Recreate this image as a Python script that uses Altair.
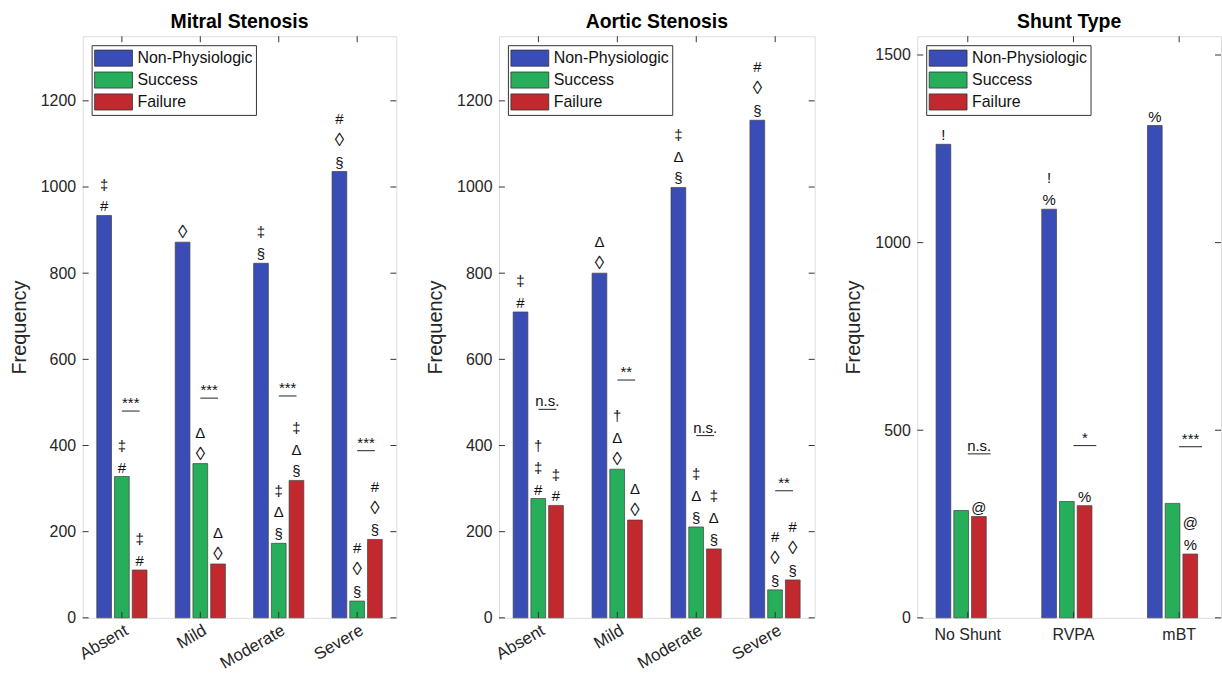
import altair as alt
import pandas as pd

SERIES = ["Non-Physiologic", "Success", "Failure"]
COLORS = ["#3A4DB7", "#27AE5B", "#C1292E"]

# ---- Mitral Stenosis ----
ms_categories = ["Absent", "Mild", "Moderate", "Severe"]
ms_nonphys = [934, 872, 823, 1036]
ms_success = [328, 358, 173, 39]
ms_failure = [111, 125, 319, 182]
ms_marks_nonphys = [["#", "‡"], ["◊"], ["§", "‡"], ["§", "◊", "#"]]
ms_marks_success = [["#", "‡"], ["◊", "Δ"], ["§", "Δ", "‡"], ["§", "◊", "#"]]
ms_marks_failure = [["#", "‡"], ["◊", "Δ"], ["§", "Δ", "‡"], ["§", "◊", "#"]]
ms_sig_text = ["***", "***", "***", "***"]
ms_sig_level = [480, 510, 515, 388]

# ---- Aortic Stenosis ----
as_categories = ["Absent", "Mild", "Moderate", "Severe"]
as_nonphys = [710, 800, 999, 1155]
as_success = [277, 345, 211, 65]
as_failure = [261, 227, 160, 88]
as_marks_nonphys = [["#", "‡"], ["◊", "Δ"], ["§", "Δ", "‡"], ["§", "◊", "#"]]
as_marks_success = [["#", "‡", "†"], ["◊", "Δ", "†"], ["§", "Δ", "‡"], ["§", "◊", "#"]]
as_marks_failure = [["#", "‡"], ["◊", "Δ"], ["§", "Δ", "‡"], ["§", "◊", "#"]]
as_sig_text = ["n.s.", "**", "n.s.", "**"]
as_sig_level = [484, 552, 423, 295]

# ---- Shunt Type ----
st_categories = ["No Shunt", "RVPA", "mBT"]
st_nonphys = [1262, 1089, 1312]
st_success = [286, 310, 305]
st_failure = [270, 299, 170]
st_marks_nonphys = [["!"], ["%", "!"], ["%"]]
st_marks_success = [[], [], []]
st_marks_failure = [["@"], ["%"], ["%", "@"]]
st_sig_text = ["n.s.", "*", "***"]
st_sig_level = [437, 459, 456]

ticks_1200 = [0, 200, 400, 600, 800, 1000, 1200]
ticks_1500 = [0, 500, 1000, 1500]

FONT = "Liberation Sans"
TXT = "#262626"
H = 584


def panel(title, cats, nonphys, success, failure, m_np, m_s, m_f,
          sig_text, sig_level, y_max, y_ticks, width, angle,
          pad_in, pad_out, align, off_pi):
    vals_by_series = [nonphys, success, failure]
    marks_by_series = [m_np, m_s, m_f]
    rows, mrows = [], []
    for i, c in enumerate(cats):
        for s, vals, mk in zip(SERIES, vals_by_series, marks_by_series):
            rows.append({"cat": c, "series": s, "value": vals[i]})
            for k, sym in enumerate(mk[i]):
                mrows.append({"cat": c, "series": s, "value": vals[i], "sym": sym, "k": k})
    bars_df = pd.DataFrame(rows)
    marks_df = pd.DataFrame(mrows, columns=["cat", "series", "value", "sym", "k"])
    sig_df = pd.DataFrame({"cat": cats, "value": sig_level, "txt": sig_text})
    yt_df = pd.DataFrame({"value": y_ticks})
    xt_df = pd.DataFrame({"cat": cats})

    xscale = alt.Scale(domain=cats, paddingInner=pad_in, paddingOuter=pad_out, align=align)
    yscale = alt.Scale(domain=[0, y_max], nice=False, zero=True)
    off_scale = alt.Scale(domain=SERIES, paddingInner=off_pi, paddingOuter=0)
    red_pos = 0.5 + 1.0 / (3 - off_pi)
    mid_pos = (0.5 + red_pos) / 2

    if angle == 0:
        xaxis = alt.Axis(title=None, labelAngle=0, labelAlign="center", labelBaseline="top",
                         labelPadding=9, tickSize=0, domain=False, labelFontSize=16,
                         labelFont=FONT, labelColor=TXT)
    else:
        xaxis = alt.Axis(title=None, labelAngle=angle, labelAlign="right",
                         labelBaseline="middle", labelPadding=11, labelOffset=5,
                         tickSize=0, domain=False,
                         labelFontSize=17, labelFont=FONT, labelColor=TXT)
    yaxis = alt.Axis(title="Frequency", values=y_ticks, format="d", tickSize=0, domain=False,
                     grid=False, labelFontSize=16, labelFont=FONT, labelColor=TXT,
                     labelPadding=7, titleFontSize=20, titleFont=FONT,
                     titleFontWeight="normal", titleColor=TXT, titlePadding=11)

    bars = alt.Chart(bars_df).mark_bar(stroke="#404040", strokeWidth=0.7).encode(
        x=alt.X("cat:N", scale=xscale, axis=xaxis, sort=cats),
        xOffset=alt.XOffset("series:N", scale=off_scale, sort=SERIES),
        y=alt.Y("value:Q", scale=yscale, axis=yaxis),
        color=alt.Color("series:N", sort=SERIES,
                        scale=alt.Scale(domain=SERIES, range=COLORS),
                        legend=alt.Legend(title=None, orient="none", legendX=9, legendY=9,
                                          fillColor="white", strokeColor="#333",
                                          padding=3, symbolType="M-2,-0.85H2V0.85H-2Z",
                                          symbolSize=361, symbolStrokeColor="#333",
                                          symbolStrokeWidth=0.8, symbolOpacity=1,
                                          labelFontSize=16, labelFont=FONT, labelColor="#111",
                                          labelOffset=14, rowPadding=2, symbolOffset=9)),
    )

    layers = [bars]
    for k in range(3):
        sub = marks_df[marks_df["k"] == k]
        if len(sub) == 0:
            continue
        layers.append(
            alt.Chart(sub).mark_text(baseline="alphabetic", dy=-4 - 22 * k, font=FONT,
                                     color="#111", fill="#111").encode(
                x=alt.X("cat:N", sort=cats),
                xOffset=alt.XOffset("series:N", sort=SERIES),
                y=alt.Y("value:Q"),
                text="sym:N",
                size=alt.condition(alt.datum.sym == "◊", alt.value(19), alt.value(15)),
            )
        )
    layers.append(
        alt.Chart(sig_df).mark_rule(color="#222", strokeWidth=1).encode(
            x=alt.X("cat:N", bandPosition=0.5, sort=cats),
            x2=alt.X2("cat", bandPosition=red_pos),
            y=alt.Y("value:Q"),
        )
    )
    layers.append(
        alt.Chart(sig_df).mark_text(baseline="alphabetic", dy=-3, font=FONT, fontSize=15,
                                    color="#111", fill="#111").encode(
            x=alt.X("cat:N", bandPosition=mid_pos, sort=cats),
            y=alt.Y("value:Q"),
            text="txt:N",
        )
    )
    # inner ticks (MATLAB style)
    layers.append(alt.Chart(yt_df).mark_rule(color="#333").encode(
        y=alt.Y("value:Q"), x=alt.value(0), x2=alt.value(6)))
    layers.append(alt.Chart(yt_df).mark_rule(color="#333").encode(
        y=alt.Y("value:Q"), x=alt.value(width - 6), x2=alt.value(width)))
    layers.append(alt.Chart(xt_df).mark_rule(color="#333").encode(
        x=alt.X("cat:N", sort=cats), y=alt.value(H), y2=alt.value(H - 6)))
    layers.append(alt.Chart(xt_df).mark_rule(color="#333").encode(
        x=alt.X("cat:N", sort=cats), y=alt.value(0), y2=alt.value(6)))

    return alt.layer(*layers).properties(
        width=width, height=H,
        title=alt.Title(title, fontSize=19.5, fontWeight="bold", font=FONT, color="#000",
                        offset=3),
    )


p1 = panel("Mitral Stenosis", ms_categories, ms_nonphys, ms_success, ms_failure,
           ms_marks_nonphys, ms_marks_success, ms_marks_failure,
           ms_sig_text, ms_sig_level, 1350, ticks_1200, 315, 330, 0.36, 0.18, 0.5, 0.17)
p2 = panel("Aortic Stenosis", as_categories, as_nonphys, as_success, as_failure,
           as_marks_nonphys, as_marks_success, as_marks_failure,
           as_sig_text, as_sig_level, 1350, ticks_1200, 317, 330, 0.36, 0.18, 0.5, 0.17)
p3 = panel("Shunt Type", st_categories, st_nonphys, st_success, st_failure,
           st_marks_nonphys, st_marks_success, st_marks_failure,
           st_sig_text, st_sig_level, 1550, ticks_1500, 305, 0, 0.40, 0.137, 0.65, 0.22)

chart = alt.hconcat(p1, p2, p3, spacing=27).resolve_legend(color="independent").properties(
    padding={"left": 8, "top": 10, "right": 0, "bottom": 0}
).configure_view(stroke="#444", strokeWidth=1).configure(background="white")

chart.save("out.html", embed_options={"renderer": "svg", "actions": False})
